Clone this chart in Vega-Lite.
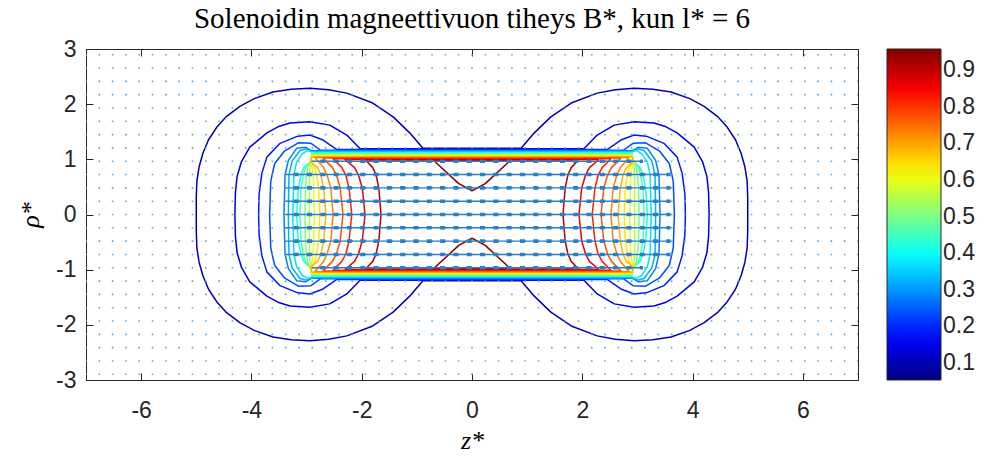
{
"$schema":"https://vega.github.io/schema/vega-lite/v6.json",
"width":772,"height":331,
"autosize":{"type":"none"},
"padding":{"left":86,"top":49,"right":130,"bottom":79},
"background":"white",
"title":{"text":"Solenoidin magneettivuon tiheys B*, kun l* = 6","font":"Liberation Serif","fontSize":29,"fontWeight":"normal","color":"black","anchor":"middle","offset":4},
"config":{
 "view":{"stroke":"#262626","strokeWidth":1},
 "axis":{"grid":false,"domain":false,"tickColor":"#262626","tickWidth":1,"labelColor":"#262626","labelFont":"Liberation Sans","labelFontSize":23,"labelExpr":"replace(datum.label, '\u2212', '-')"},
 "legend":{"gradientLength":331,"gradientThickness":54,"gradientStrokeColor":"#262626","gradientStrokeWidth":1,"labelFont":"Liberation Sans","labelFontSize":23,"labelColor":"#262626","labelOffset":14,"offset":28,"padding":0}
},
"datasets":{
"lev":[{"c":1,"L":0.099},{"c":2,"L":0.144},{"c":3,"L":0.189},{"c":4,"L":0.234},{"c":5,"L":0.279},{"c":6,"L":0.324},{"c":7,"L":0.369},{"c":8,"L":0.414},{"c":9,"L":0.459},{"c":10,"L":0.504},{"c":11,"L":0.549},{"c":12,"L":0.594},{"c":13,"L":0.639},{"c":14,"L":0.684},{"c":15,"L":0.729},{"c":16,"L":0.774},{"c":17,"L":0.819},{"c":18,"L":0.864},{"c":19,"L":0.909},{"c":20,"L":0.954},{"c":21,"L":0.954}],
"grid":[{"r":-2.8966},{"r":-2.6552},{"r":-2.4138},{"r":-2.1724},{"r":-1.931},{"r":-1.6897},{"r":-1.4483},{"r":-1.2069},{"r":-0.9655},{"r":-0.7241},{"r":-0.4828},{"r":-0.2414},{"r":0},{"r":0.2414},{"r":0.4828},{"r":0.7241},{"r":0.9655},{"r":1.2069},{"r":1.4483},{"r":1.6897},{"r":1.931},{"r":2.1724},{"r":2.4138},{"r":2.6552},{"r":2.8966}],
"arr":[{"r":0,"a":-3.3793,"b":3.6},{"r":0.2414,"a":-3.3793,"b":3.6},{"r":-0.2414,"a":-3.3793,"b":3.6},{"r":0.4828,"a":-3.3793,"b":3.6},{"r":-0.4828,"a":-3.3793,"b":3.6},{"r":0.7241,"a":-3.3793,"b":3.6},{"r":-0.7241,"a":-3.3793,"b":3.6},{"r":0.9655,"a":-2.8966,"b":3.1},{"r":-0.9655,"a":-2.8966,"b":3.1}],
"con":[
{"c":1,"z":0.89,"r":1.2},{"c":1,"z":1.13,"r":1.48},{"c":1,"z":1.43,"r":1.77},{"c":1,"z":1.8,"r":2.02},{"c":1,"z":2.27,"r":2.2},{"c":1,"z":2.6,"r":2.26},{"c":1,"z":2.94,"r":2.29},{"c":1,"z":3.28,"r":2.27},{"c":1,"z":3.61,"r":2.22},{"c":1,"z":3.95,"r":2.1},{"c":1,"z":4.21,"r":1.96},{"c":1,"z":4.45,"r":1.78},{"c":1,"z":4.63,"r":1.58},{"c":1,"z":4.78,"r":1.35},{"c":1,"z":4.88,"r":1.11},{"c":1,"z":4.95,"r":0.86},{"c":1,"z":4.99,"r":0.6},{"c":1,"z":5,"r":0.3},{"c":1,"z":5,"r":0},
{"c":1,"z":5,"r":-0.3},{"c":1,"z":4.99,"r":-0.6},{"c":1,"z":4.95,"r":-0.86},{"c":1,"z":4.88,"r":-1.11},{"c":1,"z":4.78,"r":-1.35},{"c":1,"z":4.63,"r":-1.58},{"c":1,"z":4.45,"r":-1.78},{"c":1,"z":4.21,"r":-1.96},{"c":1,"z":3.95,"r":-2.1},{"c":1,"z":3.61,"r":-2.22},{"c":1,"z":3.28,"r":-2.27},{"c":1,"z":2.94,"r":-2.29},{"c":1,"z":2.6,"r":-2.26},{"c":1,"z":2.27,"r":-2.2},{"c":1,"z":1.8,"r":-2.02},{"c":1,"z":1.43,"r":-1.77},{"c":1,"z":1.13,"r":-1.48},{"c":1,"z":0.89,"r":-1.2},
{"c":1,"z":-0.89,"r":-1.2},{"c":1,"z":-1.13,"r":-1.48},{"c":1,"z":-1.43,"r":-1.77},{"c":1,"z":-1.8,"r":-2.02},{"c":1,"z":-2.27,"r":-2.2},{"c":1,"z":-2.6,"r":-2.26},{"c":1,"z":-2.94,"r":-2.29},{"c":1,"z":-3.28,"r":-2.27},{"c":1,"z":-3.61,"r":-2.22},{"c":1,"z":-3.95,"r":-2.1},{"c":1,"z":-4.21,"r":-1.96},{"c":1,"z":-4.45,"r":-1.78},{"c":1,"z":-4.63,"r":-1.58},{"c":1,"z":-4.78,"r":-1.35},{"c":1,"z":-4.88,"r":-1.11},{"c":1,"z":-4.95,"r":-0.86},{"c":1,"z":-4.99,"r":-0.6},{"c":1,"z":-5,"r":-0.3},{"c":1,"z":-5,"r":0},
{"c":1,"z":-5,"r":0.3},{"c":1,"z":-4.99,"r":0.6},{"c":1,"z":-4.95,"r":0.86},{"c":1,"z":-4.88,"r":1.11},{"c":1,"z":-4.78,"r":1.35},{"c":1,"z":-4.63,"r":1.58},{"c":1,"z":-4.45,"r":1.78},{"c":1,"z":-4.21,"r":1.96},{"c":1,"z":-3.95,"r":2.1},{"c":1,"z":-3.61,"r":2.22},{"c":1,"z":-3.28,"r":2.27},{"c":1,"z":-2.94,"r":2.29},{"c":1,"z":-2.6,"r":2.26},{"c":1,"z":-2.27,"r":2.2},{"c":1,"z":-1.8,"r":2.02},{"c":1,"z":-1.43,"r":1.77},{"c":1,"z":-1.13,"r":1.48},{"c":1,"z":-0.89,"r":1.2},{"c":1,"z":0.89,"r":1.2},
{"c":2,"z":2.03,"r":1.19},{"c":2,"z":2.27,"r":1.44},{"c":2,"z":2.58,"r":1.62},{"c":2,"z":2.94,"r":1.68},{"c":2,"z":3.3,"r":1.66},{"c":2,"z":3.52,"r":1.59},{"c":2,"z":3.72,"r":1.48},{"c":2,"z":4.03,"r":1.22},{"c":2,"z":4.18,"r":0.96},{"c":2,"z":4.26,"r":0.69},{"c":2,"z":4.29,"r":0.4},{"c":2,"z":4.3,"r":0},
{"c":2,"z":4.29,"r":-0.4},{"c":2,"z":4.26,"r":-0.69},{"c":2,"z":4.18,"r":-0.96},{"c":2,"z":4.03,"r":-1.22},{"c":2,"z":3.72,"r":-1.48},{"c":2,"z":3.52,"r":-1.59},{"c":2,"z":3.3,"r":-1.66},{"c":2,"z":2.94,"r":-1.68},{"c":2,"z":2.58,"r":-1.62},{"c":2,"z":2.27,"r":-1.44},{"c":2,"z":2.03,"r":-1.19},
{"c":2,"z":-2.03,"r":-1.19},{"c":2,"z":-2.27,"r":-1.44},{"c":2,"z":-2.58,"r":-1.62},{"c":2,"z":-2.94,"r":-1.68},{"c":2,"z":-3.3,"r":-1.66},{"c":2,"z":-3.52,"r":-1.59},{"c":2,"z":-3.72,"r":-1.48},{"c":2,"z":-4.03,"r":-1.22},{"c":2,"z":-4.18,"r":-0.96},{"c":2,"z":-4.26,"r":-0.69},{"c":2,"z":-4.29,"r":-0.4},{"c":2,"z":-4.3,"r":0},
{"c":2,"z":-4.29,"r":0.4},{"c":2,"z":-4.26,"r":0.69},{"c":2,"z":-4.18,"r":0.96},{"c":2,"z":-4.03,"r":1.22},{"c":2,"z":-3.72,"r":1.48},{"c":2,"z":-3.52,"r":1.59},{"c":2,"z":-3.3,"r":1.66},{"c":2,"z":-2.94,"r":1.68},{"c":2,"z":-2.58,"r":1.62},{"c":2,"z":-2.27,"r":1.44},{"c":2,"z":-2.03,"r":1.19},{"c":2,"z":2.03,"r":1.19},
{"c":3,"z":2.45,"r":1.178},{"c":3,"z":2.7,"r":1.35},{"c":3,"z":2.94,"r":1.44},{"c":3,"z":3.16,"r":1.42},{"c":3,"z":3.48,"r":1.29},{"c":3,"z":3.72,"r":1.04},{"c":3,"z":3.81,"r":0.75},{"c":3,"z":3.86,"r":0.38},{"c":3,"z":3.87,"r":0},
{"c":3,"z":3.86,"r":-0.38},{"c":3,"z":3.81,"r":-0.75},{"c":3,"z":3.72,"r":-1.04},{"c":3,"z":3.48,"r":-1.29},{"c":3,"z":3.16,"r":-1.42},{"c":3,"z":2.94,"r":-1.44},{"c":3,"z":2.7,"r":-1.35},{"c":3,"z":2.45,"r":-1.178},
{"c":3,"z":-2.45,"r":-1.178},{"c":3,"z":-2.7,"r":-1.35},{"c":3,"z":-2.94,"r":-1.44},{"c":3,"z":-3.16,"r":-1.42},{"c":3,"z":-3.48,"r":-1.29},{"c":3,"z":-3.72,"r":-1.04},{"c":3,"z":-3.81,"r":-0.75},{"c":3,"z":-3.86,"r":-0.38},{"c":3,"z":-3.87,"r":0},
{"c":3,"z":-3.86,"r":0.38},{"c":3,"z":-3.81,"r":0.75},{"c":3,"z":-3.72,"r":1.04},{"c":3,"z":-3.48,"r":1.29},{"c":3,"z":-3.16,"r":1.42},{"c":3,"z":-2.94,"r":1.44},{"c":3,"z":-2.7,"r":1.35},{"c":3,"z":-2.45,"r":1.178},{"c":3,"z":2.45,"r":1.178},
{"c":4,"z":2.75,"r":1.166},{"c":4,"z":2.92,"r":1.29},{"c":4,"z":3.15,"r":1.3},{"c":4,"z":3.4,"r":1.15},{"c":4,"z":3.58,"r":0.92},{"c":4,"z":3.65,"r":0.6},{"c":4,"z":3.67,"r":0},
{"c":4,"z":3.65,"r":-0.6},{"c":4,"z":3.58,"r":-0.92},{"c":4,"z":3.4,"r":-1.15},{"c":4,"z":3.15,"r":-1.3},{"c":4,"z":2.92,"r":-1.29},{"c":4,"z":2.75,"r":-1.166},
{"c":4,"z":-2.75,"r":-1.166},{"c":4,"z":-2.92,"r":-1.29},{"c":4,"z":-3.15,"r":-1.3},{"c":4,"z":-3.4,"r":-1.15},{"c":4,"z":-3.58,"r":-0.92},{"c":4,"z":-3.65,"r":-0.6},{"c":4,"z":-3.67,"r":0},
{"c":4,"z":-3.65,"r":0.6},{"c":4,"z":-3.58,"r":0.92},{"c":4,"z":-3.4,"r":1.15},{"c":4,"z":-3.15,"r":1.3},{"c":4,"z":-2.92,"r":1.29},{"c":4,"z":-2.75,"r":1.166},{"c":4,"z":2.75,"r":1.166},
{"c":5,"z":2.9,"r":1.154},{"c":5,"z":3.02,"r":1.22},{"c":5,"z":3.18,"r":1.2},{"c":5,"z":3.33,"r":0.98},{"c":5,"z":3.39,"r":0.72},{"c":5,"z":3.41,"r":0},
{"c":5,"z":3.39,"r":-0.72},{"c":5,"z":3.33,"r":-0.98},{"c":5,"z":3.18,"r":-1.2},{"c":5,"z":3.02,"r":-1.22},{"c":5,"z":2.9,"r":-1.154},
{"c":5,"z":-2.9,"r":-1.154},{"c":5,"z":-3.02,"r":-1.22},{"c":5,"z":-3.18,"r":-1.2},{"c":5,"z":-3.33,"r":-0.98},{"c":5,"z":-3.39,"r":-0.72},{"c":5,"z":-3.41,"r":0},
{"c":5,"z":-3.39,"r":0.72},{"c":5,"z":-3.33,"r":0.98},{"c":5,"z":-3.18,"r":1.2},{"c":5,"z":-3.02,"r":1.22},{"c":5,"z":-2.9,"r":1.154},{"c":5,"z":2.9,"r":1.154},
{"c":6,"z":2.9,"r":1.142},{"c":6,"z":3,"r":1.19},{"c":6,"z":3.12,"r":1.16},{"c":6,"z":3.26,"r":0.97},{"c":6,"z":3.32,"r":0.72},{"c":6,"z":3.33,"r":0},
{"c":6,"z":3.32,"r":-0.72},{"c":6,"z":3.26,"r":-0.97},{"c":6,"z":3.12,"r":-1.16},{"c":6,"z":3,"r":-1.19},{"c":6,"z":2.9,"r":-1.142},
{"c":6,"z":-2.9,"r":-1.142},{"c":6,"z":-3,"r":-1.19},{"c":6,"z":-3.12,"r":-1.16},{"c":6,"z":-3.26,"r":-0.97},{"c":6,"z":-3.32,"r":-0.72},{"c":6,"z":-3.33,"r":0},
{"c":6,"z":-3.32,"r":0.72},{"c":6,"z":-3.26,"r":0.97},{"c":6,"z":-3.12,"r":1.16},{"c":6,"z":-3,"r":1.19},{"c":6,"z":-2.9,"r":1.142},{"c":6,"z":2.9,"r":1.142},
{"c":7,"z":2.9,"r":1.13},{"c":7,"z":2.98,"r":1.16},{"c":7,"z":3.08,"r":1.1},{"c":7,"z":3.18,"r":0.95},{"c":7,"z":3.23,"r":0.72},{"c":7,"z":3.25,"r":0},
{"c":7,"z":3.23,"r":-0.72},{"c":7,"z":3.18,"r":-0.95},{"c":7,"z":3.08,"r":-1.1},{"c":7,"z":2.98,"r":-1.16},{"c":7,"z":2.9,"r":-1.13},
{"c":7,"z":-2.9,"r":-1.13},{"c":7,"z":-2.98,"r":-1.16},{"c":7,"z":-3.08,"r":-1.1},{"c":7,"z":-3.18,"r":-0.95},{"c":7,"z":-3.23,"r":-0.72},{"c":7,"z":-3.25,"r":0},
{"c":7,"z":-3.23,"r":0.72},{"c":7,"z":-3.18,"r":0.95},{"c":7,"z":-3.08,"r":1.1},{"c":7,"z":-2.98,"r":1.16},{"c":7,"z":-2.9,"r":1.13},{"c":7,"z":2.9,"r":1.13},
{"c":8,"z":2.9,"r":1.118},{"c":8,"z":2.93,"r":0.96},{"c":8,"z":3.05,"r":0.85},{"c":8,"z":3.1,"r":0.72},{"c":8,"z":3.15,"r":0.48},{"c":8,"z":3.18,"r":0},
{"c":8,"z":3.15,"r":-0.48},{"c":8,"z":3.1,"r":-0.72},{"c":8,"z":3.05,"r":-0.85},{"c":8,"z":2.93,"r":-0.96},{"c":8,"z":2.9,"r":-1.118},
{"c":8,"z":-2.9,"r":-1.118},{"c":8,"z":-2.93,"r":-0.96},{"c":8,"z":-3.05,"r":-0.85},{"c":8,"z":-3.1,"r":-0.72},{"c":8,"z":-3.15,"r":-0.48},{"c":8,"z":-3.18,"r":0},
{"c":8,"z":-3.15,"r":0.48},{"c":8,"z":-3.1,"r":0.72},{"c":8,"z":-3.05,"r":0.85},{"c":8,"z":-2.93,"r":0.96},{"c":8,"z":-2.9,"r":1.118},{"c":8,"z":2.9,"r":1.118},
{"c":9,"z":2.9,"r":1.106},{"c":9,"z":2.93,"r":0.96},{"c":9,"z":3.02,"r":0.85},{"c":9,"z":3.06,"r":0.72},{"c":9,"z":3.1,"r":0.48},{"c":9,"z":3.12,"r":0},
{"c":9,"z":3.1,"r":-0.48},{"c":9,"z":3.06,"r":-0.72},{"c":9,"z":3.02,"r":-0.85},{"c":9,"z":2.93,"r":-0.96},{"c":9,"z":2.9,"r":-1.106},
{"c":9,"z":-2.9,"r":-1.106},{"c":9,"z":-2.93,"r":-0.96},{"c":9,"z":-3.02,"r":-0.85},{"c":9,"z":-3.06,"r":-0.72},{"c":9,"z":-3.1,"r":-0.48},{"c":9,"z":-3.12,"r":0},
{"c":9,"z":-3.1,"r":0.48},{"c":9,"z":-3.06,"r":0.72},{"c":9,"z":-3.02,"r":0.85},{"c":9,"z":-2.93,"r":0.96},{"c":9,"z":-2.9,"r":1.106},{"c":9,"z":2.9,"r":1.106},
{"c":10,"z":2.9,"r":1.094},{"c":10,"z":2.93,"r":0.96},{"c":10,"z":2.98,"r":0.85},{"c":10,"z":3,"r":0.72},{"c":10,"z":3.02,"r":0.48},{"c":10,"z":3.03,"r":0},
{"c":10,"z":3.02,"r":-0.48},{"c":10,"z":3,"r":-0.72},{"c":10,"z":2.98,"r":-0.85},{"c":10,"z":2.93,"r":-0.96},{"c":10,"z":2.9,"r":-1.094},
{"c":10,"z":-2.9,"r":-1.094},{"c":10,"z":-2.93,"r":-0.96},{"c":10,"z":-2.98,"r":-0.85},{"c":10,"z":-3,"r":-0.72},{"c":10,"z":-3.02,"r":-0.48},{"c":10,"z":-3.03,"r":0},
{"c":10,"z":-3.02,"r":0.48},{"c":10,"z":-3,"r":0.72},{"c":10,"z":-2.98,"r":0.85},{"c":10,"z":-2.93,"r":0.96},{"c":10,"z":-2.9,"r":1.094},{"c":10,"z":2.9,"r":1.094},
{"c":11,"z":2.9,"r":1.082},{"c":11,"z":2.93,"r":0.96},{"c":11,"z":2.94,"r":0.85},{"c":11,"z":2.945,"r":0.72},{"c":11,"z":2.95,"r":0.48},{"c":11,"z":2.95,"r":0},
{"c":11,"z":2.95,"r":-0.48},{"c":11,"z":2.945,"r":-0.72},{"c":11,"z":2.94,"r":-0.85},{"c":11,"z":2.93,"r":-0.96},{"c":11,"z":2.9,"r":-1.082},
{"c":11,"z":-2.9,"r":-1.082},{"c":11,"z":-2.93,"r":-0.96},{"c":11,"z":-2.94,"r":-0.85},{"c":11,"z":-2.945,"r":-0.72},{"c":11,"z":-2.95,"r":-0.48},{"c":11,"z":-2.95,"r":0},
{"c":11,"z":-2.95,"r":0.48},{"c":11,"z":-2.945,"r":0.72},{"c":11,"z":-2.94,"r":0.85},{"c":11,"z":-2.93,"r":0.96},{"c":11,"z":-2.9,"r":1.082},{"c":11,"z":2.9,"r":1.082},
{"c":12,"z":2.9,"r":1.07},{"c":12,"z":2.93,"r":0.96},{"c":12,"z":2.9,"r":0.85},{"c":12,"z":2.88,"r":0.72},{"c":12,"z":2.87,"r":0.48},{"c":12,"z":2.86,"r":0},
{"c":12,"z":2.87,"r":-0.48},{"c":12,"z":2.88,"r":-0.72},{"c":12,"z":2.9,"r":-0.85},{"c":12,"z":2.93,"r":-0.96},{"c":12,"z":2.9,"r":-1.07},
{"c":12,"z":-2.9,"r":-1.07},{"c":12,"z":-2.93,"r":-0.96},{"c":12,"z":-2.9,"r":-0.85},{"c":12,"z":-2.88,"r":-0.72},{"c":12,"z":-2.87,"r":-0.48},{"c":12,"z":-2.86,"r":0},
{"c":12,"z":-2.87,"r":0.48},{"c":12,"z":-2.88,"r":0.72},{"c":12,"z":-2.9,"r":0.85},{"c":12,"z":-2.93,"r":0.96},{"c":12,"z":-2.9,"r":1.07},{"c":12,"z":2.9,"r":1.07},
{"c":13,"z":2.9,"r":1.058},{"c":13,"z":2.93,"r":0.96},{"c":13,"z":2.85,"r":0.85},{"c":13,"z":2.82,"r":0.72},{"c":13,"z":2.78,"r":0.48},{"c":13,"z":2.76,"r":0},
{"c":13,"z":2.78,"r":-0.48},{"c":13,"z":2.82,"r":-0.72},{"c":13,"z":2.85,"r":-0.85},{"c":13,"z":2.93,"r":-0.96},{"c":13,"z":2.9,"r":-1.058},
{"c":13,"z":-2.9,"r":-1.058},{"c":13,"z":-2.93,"r":-0.96},{"c":13,"z":-2.85,"r":-0.85},{"c":13,"z":-2.82,"r":-0.72},{"c":13,"z":-2.78,"r":-0.48},{"c":13,"z":-2.76,"r":0},
{"c":13,"z":-2.78,"r":0.48},{"c":13,"z":-2.82,"r":0.72},{"c":13,"z":-2.85,"r":0.85},{"c":13,"z":-2.93,"r":0.96},{"c":13,"z":-2.9,"r":1.058},{"c":13,"z":2.9,"r":1.058},
{"c":14,"z":2.9,"r":1.046},{"c":14,"z":2.93,"r":0.96},{"c":14,"z":2.8,"r":0.85},{"c":14,"z":2.74,"r":0.72},{"c":14,"z":2.69,"r":0.48},{"c":14,"z":2.65,"r":0},
{"c":14,"z":2.69,"r":-0.48},{"c":14,"z":2.74,"r":-0.72},{"c":14,"z":2.8,"r":-0.85},{"c":14,"z":2.93,"r":-0.96},{"c":14,"z":2.9,"r":-1.046},
{"c":14,"z":-2.9,"r":-1.046},{"c":14,"z":-2.93,"r":-0.96},{"c":14,"z":-2.8,"r":-0.85},{"c":14,"z":-2.74,"r":-0.72},{"c":14,"z":-2.69,"r":-0.48},{"c":14,"z":-2.65,"r":0},
{"c":14,"z":-2.69,"r":0.48},{"c":14,"z":-2.74,"r":0.72},{"c":14,"z":-2.8,"r":0.85},{"c":14,"z":-2.93,"r":0.96},{"c":14,"z":-2.9,"r":1.046},{"c":14,"z":2.9,"r":1.046},
{"c":15,"z":2.85,"r":1.034},{"c":15,"z":2.69,"r":0.85},{"c":15,"z":2.63,"r":0.72},{"c":15,"z":2.56,"r":0.48},{"c":15,"z":2.52,"r":0},
{"c":15,"z":2.56,"r":-0.48},{"c":15,"z":2.63,"r":-0.72},{"c":15,"z":2.69,"r":-0.85},{"c":15,"z":2.85,"r":-1.034},
{"c":15,"z":-2.85,"r":-1.034},{"c":15,"z":-2.69,"r":-0.85},{"c":15,"z":-2.63,"r":-0.72},{"c":15,"z":-2.56,"r":-0.48},{"c":15,"z":-2.52,"r":0},
{"c":15,"z":-2.56,"r":0.48},{"c":15,"z":-2.63,"r":0.72},{"c":15,"z":-2.69,"r":0.85},{"c":15,"z":-2.85,"r":1.034},{"c":15,"z":2.85,"r":1.034},
{"c":16,"z":2.7,"r":1.022},{"c":16,"z":2.53,"r":0.85},{"c":16,"z":2.46,"r":0.72},{"c":16,"z":2.39,"r":0.48},{"c":16,"z":2.34,"r":0},
{"c":16,"z":2.39,"r":-0.48},{"c":16,"z":2.46,"r":-0.72},{"c":16,"z":2.53,"r":-0.85},{"c":16,"z":2.7,"r":-1.022},
{"c":16,"z":-2.7,"r":-1.022},{"c":16,"z":-2.53,"r":-0.85},{"c":16,"z":-2.46,"r":-0.72},{"c":16,"z":-2.39,"r":-0.48},{"c":16,"z":-2.34,"r":0},
{"c":16,"z":-2.39,"r":0.48},{"c":16,"z":-2.46,"r":0.72},{"c":16,"z":-2.53,"r":0.85},{"c":16,"z":-2.7,"r":1.022},{"c":16,"z":2.7,"r":1.022},
{"c":17,"z":2.52,"r":1.01},{"c":17,"z":2.36,"r":0.85},{"c":17,"z":2.29,"r":0.72},{"c":17,"z":2.23,"r":0.48},{"c":17,"z":2.18,"r":0},
{"c":17,"z":2.23,"r":-0.48},{"c":17,"z":2.29,"r":-0.72},{"c":17,"z":2.36,"r":-0.85},{"c":17,"z":2.52,"r":-1.01},
{"c":17,"z":-2.52,"r":-1.01},{"c":17,"z":-2.36,"r":-0.85},{"c":17,"z":-2.29,"r":-0.72},{"c":17,"z":-2.23,"r":-0.48},{"c":17,"z":-2.18,"r":0},
{"c":17,"z":-2.23,"r":0.48},{"c":17,"z":-2.29,"r":0.72},{"c":17,"z":-2.36,"r":0.85},{"c":17,"z":-2.52,"r":1.01},{"c":17,"z":2.52,"r":1.01},
{"c":18,"z":2.3,"r":0.998},{"c":18,"z":2.13,"r":0.85},{"c":18,"z":2.06,"r":0.72},{"c":18,"z":1.99,"r":0.48},{"c":18,"z":1.94,"r":0},
{"c":18,"z":1.99,"r":-0.48},{"c":18,"z":2.06,"r":-0.72},{"c":18,"z":2.13,"r":-0.85},{"c":18,"z":2.3,"r":-0.998},
{"c":18,"z":-2.3,"r":-0.998},{"c":18,"z":-2.13,"r":-0.85},{"c":18,"z":-2.06,"r":-0.72},{"c":18,"z":-1.99,"r":-0.48},{"c":18,"z":-1.94,"r":0},
{"c":18,"z":-1.99,"r":0.48},{"c":18,"z":-2.06,"r":0.72},{"c":18,"z":-2.13,"r":0.85},{"c":18,"z":-2.3,"r":0.998},{"c":18,"z":2.3,"r":0.998},
{"c":19,"z":1.93,"r":0.986},{"c":19,"z":1.8,"r":0.85},{"c":19,"z":1.74,"r":0.72},{"c":19,"z":1.69,"r":0.48},{"c":19,"z":1.65,"r":0},
{"c":19,"z":1.69,"r":-0.48},{"c":19,"z":1.74,"r":-0.72},{"c":19,"z":1.8,"r":-0.85},{"c":19,"z":1.93,"r":-0.986},
{"c":19,"z":-1.93,"r":-0.986},{"c":19,"z":-1.8,"r":-0.85},{"c":19,"z":-1.74,"r":-0.72},{"c":19,"z":-1.69,"r":-0.48},{"c":19,"z":-1.65,"r":0},
{"c":19,"z":-1.69,"r":0.48},{"c":19,"z":-1.74,"r":0.72},{"c":19,"z":-1.8,"r":0.85},{"c":19,"z":-1.93,"r":0.986},{"c":19,"z":1.93,"r":0.986},
{"c":20,"z":-0.69,"r":0.974},{"c":20,"z":-0.24,"r":0.56},{"c":20,"z":0,"r":0.43},{"c":20,"z":0.24,"r":0.56},{"c":20,"z":0.69,"r":0.974},{"c":20,"z":-0.69,"r":0.974},
{"c":21,"z":-0.69,"r":-0.974},{"c":21,"z":-0.24,"r":-0.56},{"c":21,"z":0,"r":-0.43},{"c":21,"z":0.24,"r":-0.56},{"c":21,"z":0.69,"r":-0.974},{"c":21,"z":-0.69,"r":-0.974}
]},
"layer":[
{"data":{"name":"con"},
 "transform":[{"lookup":"c","from":{"data":{"name":"lev"},"key":"c","fields":["L"]}}],
 "mark":{"type":"line","strokeWidth":1.5,"strokeJoin":"round"},
 "encoding":{
  "x":{"field":"z","type":"quantitative","scale":{"domain":[-7,7],"nice":false,"zero":false},
       "axis":{"orient":"bottom","values":[-6,-4,-2,0,2,4,6],"tickSize":-7,"labelPadding":26,"title":"z*","titleFont":"Liberation Serif","titleFontStyle":"italic","titleFontSize":26,"titleFontWeight":"normal","titleColor":"black","titlePadding":5}},
  "y":{"field":"r","type":"quantitative","scale":{"domain":[-3,3],"nice":false,"zero":false},
       "axis":{"orient":"left","values":[-3,-2,-1,0,1,2,3],"tickSize":-7,"labelPadding":17,"title":"ρ*","titleFont":"Liberation Serif","titleFontStyle":"italic","titleFontSize":26,"titleFontWeight":"normal","titleColor":"black","titlePadding":12}},
  "color":{"field":"L","type":"quantitative",
       "scale":{"domain":[0.054,0.167,0.393,0.618,0.844,0.957],"range":["#000080","#0000ff","#00ffff","#ffff00","#ff0000","#800000"],"interpolate":"rgb"},
       "legend":{"title":null,"orient":"right","direction":"vertical","values":[0.1,0.2,0.3,0.4,0.5,0.6,0.7,0.8,0.9]}},
  "detail":{"field":"c","type":"nominal"},
  "order":{"value":null}
 }},
{"data":{"name":"grid"},
 "mark":{"type":"rule","color":"#5aa5dc","strokeWidth":1.6,"strokeDash":[1.6,11.7103],"strokeDashOffset":0.8},
 "encoding":{
  "y":{"field":"r","type":"quantitative","axis":null,"scale":{"domain":[-3,3],"nice":false,"zero":false}},
  "x":{"datum":-7,"type":"quantitative","axis":null,"scale":{"domain":[-7,7],"nice":false,"zero":false}},
  "x2":{"datum":7}
 }},
{"data":{"name":"arr"},
 "mark":{"type":"rule","color":"#2b80c5","strokeWidth":1.4},
 "encoding":{
  "y":{"field":"r","type":"quantitative","scale":{"domain":[-3,3],"nice":false,"zero":false},
       "axis":{"orient":"right","values":[-3,-2,-1,0,1,2,3],"tickSize":-7,"labels":false,"title":null}},
  "x":{"field":"a","type":"quantitative","scale":{"domain":[-7,7],"nice":false,"zero":false},
       "axis":{"orient":"top","values":[-6,-4,-2,0,2,4,6],"tickSize":-7,"labels":false,"title":null}},
  "x2":{"field":"b"}
 }},
{"data":{"name":"arr"},
 "mark":{"type":"rule","color":"#2b80c5","strokeWidth":3.6,"strokeDash":[5,8.3103],"strokeDashOffset":5.3},
 "encoding":{
  "y":{"field":"r","type":"quantitative","axis":null,"scale":{"domain":[-3,3],"nice":false,"zero":false}},
  "x":{"field":"a","type":"quantitative","axis":null,"scale":{"domain":[-7,7],"nice":false,"zero":false}},
  "x2":{"field":"b"}
 }}
],
"resolve":{"axis":{"x":"independent","y":"independent"}}
}
